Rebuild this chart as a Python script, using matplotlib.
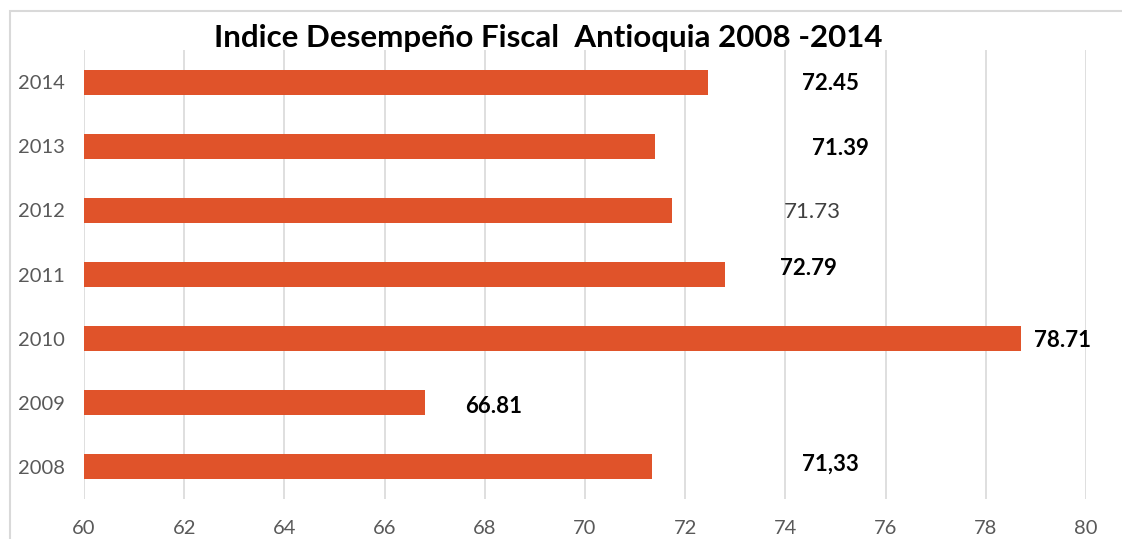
import matplotlib.pyplot as plt
from matplotlib.patches import Rectangle

# datos
anios = ["2008", "2009", "2010", "2011", "2012", "2013", "2014"]
valores = [71.33, 66.81, 78.71, 72.79, 71.73, 71.39, 72.45]
etiquetas = ["71,33", "66.81", "78.71", "72.79", "71.73", "71.39", "72.45"]
negrita = [True, True, True, True, False, True, True]
# posicion de cada etiqueta (x en datos, y en indice de categoria)
etiqueta_x = [74.89, 68.18, 79.54, 74.45, 74.53, 75.09, 74.89]
etiqueta_y = [0.05, 0.94, 1.97, 3.09, 3.98, 4.97, 5.97]

plt.rcParams['font.family'] = ['Lato', 'DejaVu Sans']

fig = plt.figure(figsize=(11.22, 5.39), dpi=100)
W, H = 1122, 539
ax = fig.add_axes([84 / W, 1 - 499 / H, (1086 - 84) / W, (499 - 50) / H])

# marco del grafico
fig.patches.append(Rectangle((9.5 / W, -0.1), 1.2, 1 - 11 / H + 0.1, transform=fig.transFigure,
                             fill=False, edgecolor="#d9d9d9", linewidth=1.5))

pos = range(len(anios))
ax.barh(pos, [v - 60 for v in valores], left=60, height=0.39, color="#E0532A", zorder=2)

for i in pos:
    ax.text(etiqueta_x[i], etiqueta_y[i], etiquetas[i], ha="center", va="center",
            fontsize=16, fontweight="bold" if negrita[i] else "normal",
            color="black" if negrita[i] else "#404040", zorder=3)

ax.set_xlim(60, 80)
ax.set_ylim(-0.5, 6.5)
ax.set_xticks(range(60, 81, 2))
ax.set_yticks(list(pos))
ax.set_yticklabels(anios)
ax.grid(axis="x", color="#d9d9d9", linewidth=1.2, zorder=0)
for s in ax.spines.values():
    s.set_visible(False)
ax.tick_params(length=0, labelsize=14.5, labelcolor="#595959")
ax.tick_params(axis="x", pad=15)
ax.tick_params(axis="y", pad=14)

fig.text(548 / W, 1 - 38 / H, "Indice Desempeño Fiscal  Antioquia 2008 -2014", ha="center", va="center",
         fontsize=22.5, fontweight="bold", color="black")

fig.savefig("out.png", dpi=100)
